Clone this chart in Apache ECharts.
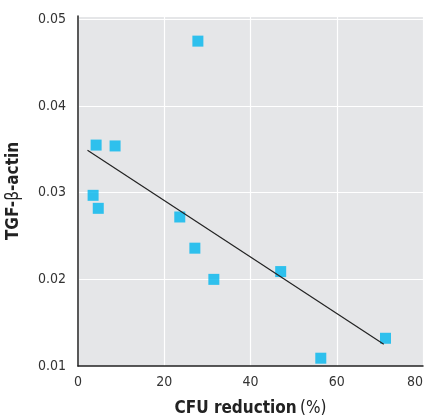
<!DOCTYPE html>
<html><head><meta charset="utf-8">
<script src="https://cdn.jsdelivr.net/npm/echarts@6/dist/echarts.min.js"></script>
<style>html,body{margin:0;padding:0;background:#fff}#c{width:428px;height:420px}</style>
</head><body><div id="c"></div>
<script>
var cfuReduction = [4.2, 8.6, 3.5, 4.7, 27.8, 23.6, 27.1, 31.5, 47.0, 56.3, 71.3];
var tgfActin = [0.0355, 0.0354, 0.0297, 0.0282, 0.0475, 0.0272, 0.0236, 0.0200, 0.0209, 0.0109, 0.0132];
var trendX = [2.2, 70.9];
var trendY = [0.0349, 0.0125];
var xTicks = [0, 20, 40, 60, 80];
var yTicks = [0.01, 0.02, 0.03, 0.04, 0.05];

var FONT = '"DejaVu Sans Condensed", "Liberation Sans Narrow", sans-serif';
var chart = echarts.init(document.getElementById('c'), null, {renderer: 'canvas'});
chart.setOption({
  animation: false,
  grid: {left: 78, top: 16, right: 5, bottom: 54, show: true, backgroundColor: '#E5E6E8', borderWidth: 0,
    outerBoundsMode: 'none', containLabel: false},
  xAxis: {
    type: 'value', min: xTicks[0], max: xTicks[xTicks.length - 1], interval: 20,
    axisLine: {show: true, onZero: false, lineStyle: {color: '#222', width: 1.5}},
    axisTick: {show: false},
    splitLine: {show: true, lineStyle: {color: '#fff', width: 1.2}},
    axisLabel: {fontFamily: FONT, fontSize: 14, color: '#333', margin: 9, alignMaxLabel: 'right'},
    name: '{b|CFU reduction} {n|(%)}', nameLocation: 'middle', nameGap: 34,
    nameTextStyle: {rich: {
      b: {fontFamily: FONT, fontSize: 17, fontWeight: 'bold', color: '#222'},
      n: {fontFamily: FONT, fontSize: 17, color: '#222'}
    }}
  },
  yAxis: {
    type: 'value', min: yTicks[0], max: 0.0504, interval: 0.01,
    axisLine: {show: true, onZero: false, lineStyle: {color: '#222', width: 1.5}},
    axisTick: {show: false},
    splitLine: {show: true, lineStyle: {color: '#fff', width: 1.2}},
    axisLabel: {fontFamily: FONT, fontSize: 14, color: '#333', margin: 12,
      formatter: function (v) { return v.toFixed(2); }},
    name: '{b|TGF-}{n|β}{b|-actin}', nameLocation: 'middle', nameGap: 56, nameRotate: 90,
    nameTextStyle: {rich: {
      b: {fontFamily: FONT, fontSize: 17, fontWeight: 'bold', color: '#222'},
      n: {fontFamily: FONT, fontSize: 17, color: '#222'}
    }}
  },
  series: [
    {
      type: 'line', data: trendX.map(function (x, i) { return [x, trendY[i]]; }),
      symbol: 'none', lineStyle: {color: '#222', width: 1.2}, z: 3
    },
    {
      type: 'scatter', data: cfuReduction.map(function (x, i) { return [x, tgfActin[i]]; }),
      symbol: 'rect', symbolSize: 11, itemStyle: {color: '#00B7EE'}, z: 2
    }
  ]
});
</script></body></html>
